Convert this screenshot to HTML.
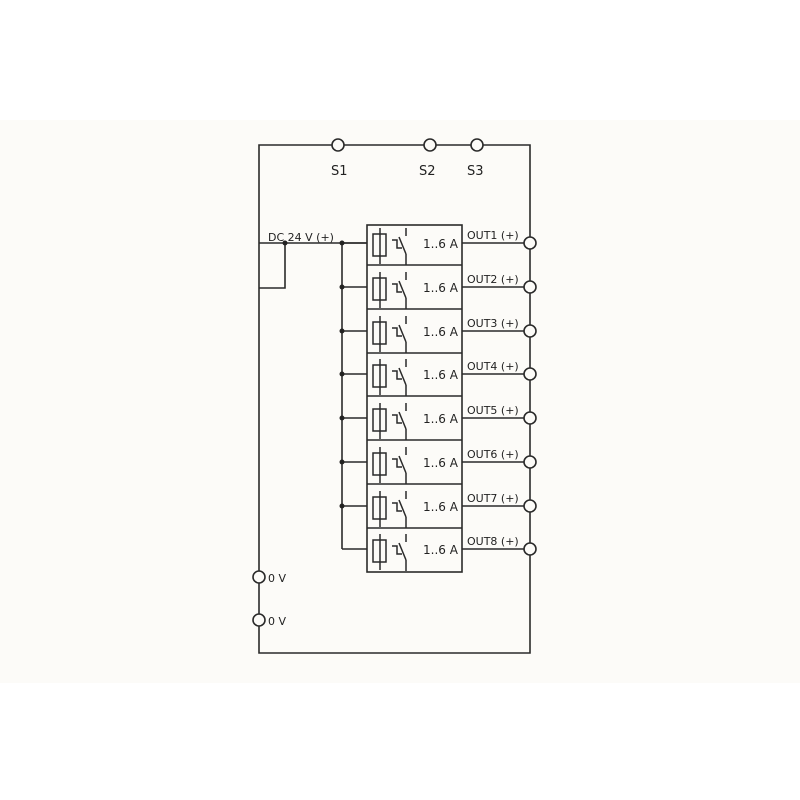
<!DOCTYPE html>
<html><head><style>
html,body{margin:0;padding:0;background:#fff;}
.band{position:absolute;left:0;top:120px;width:800px;height:563px;background:#fcfbf8;}
svg{position:absolute;left:0;top:0;}
text{font-family:"DejaVu Sans","Liberation Sans",sans-serif;fill:#222;}
</style></head><body>
<div class="band"></div>
<svg width="800" height="800" viewBox="0 0 800 800">
<g stroke="#2a2a2a" stroke-width="1.6" fill="none">
<polyline points="332,145 259,145 259,571"/>
<line x1="259" y1="583" x2="259" y2="614"/>
<polyline points="259,626 259,653 530,653 530,555"/>
<line x1="344" y1="145" x2="424" y2="145"/>
<line x1="436" y1="145" x2="471" y2="145"/>
<polyline points="483,145 530,145 530,237"/>
<rect x="367" y="225" width="95" height="347" fill="#fcfbf8"/>
<line x1="259" y1="243" x2="367" y2="243"/>
<polyline points="285,243 285,288 259,288"/>
<line x1="342" y1="243" x2="342" y2="549"/>
</g>
<g fill="#fcfbf8" stroke="#2a2a2a" stroke-width="1.6">
<circle cx="338" cy="145" r="6"/><circle cx="430" cy="145" r="6"/><circle cx="477" cy="145" r="6"/>
<circle cx="259" cy="577" r="6"/><circle cx="259" cy="620" r="6"/>
</g>
<g fill="#222"><circle cx="285" cy="243" r="2.5"/></g>
<g font-size="13">
<text x="331" y="175">S1</text><text x="419" y="175">S2</text><text x="467" y="175">S3</text>
<text x="268" y="241" font-size="11">DC 24 V (+)</text>
<text x="268" y="582" font-size="11">0 V</text>
<text x="268" y="625" font-size="11">0 V</text>
</g>
<g id="rows"></g>
</svg>
<script>
var ys=[243,287,331,374,418,462,506,549];
var s='';
ys.forEach(function(y,i){
 if(i<7) s+='<line x1="367" y1="'+(y+22)+'" x2="462" y2="'+(y+22)+'" stroke="#2a2a2a" stroke-width="1.6"/>';
 s+='<line x1="342" y1="'+y+'" x2="367" y2="'+y+'" stroke="#2a2a2a" stroke-width="1.6"/>';
 if(i<7) s+='<circle cx="342" cy="'+y+'" r="2.5" fill="#222"/>';
 s+='<line x1="462" y1="'+y+'" x2="524" y2="'+y+'" stroke="#2a2a2a" stroke-width="1.6"/>';
 s+='<g stroke="#2a2a2a" stroke-width="1.5" fill="none">';
 s+='<rect x="373" y="'+(y-9)+'" width="13" height="22"/>';
 s+='<line x1="380" y1="'+(y-15)+'" x2="380" y2="'+(y+21)+'"/>';
 s+='<polyline points="392,'+(y-3)+' 397,'+(y-3)+' 397,'+(y+5)+' 402,'+(y+5)+'"/>';
 s+='<line x1="399" y1="'+(y-6)+'" x2="406" y2="'+(y+11)+'"/>';
 s+='<line x1="406" y1="'+(y-15)+'" x2="406" y2="'+(y-7)+'"/>';
 s+='<line x1="406" y1="'+(y+11)+'" x2="406" y2="'+(y+22)+'"/>';
 s+='</g>';
 s+='<circle cx="530" cy="'+y+'" r="6" fill="#fcfbf8" stroke="#2a2a2a" stroke-width="1.6"/>';
 if(i<7) s+='<line x1="530" y1="'+(y+6)+'" x2="530" y2="'+(ys[i+1]-6)+'" stroke="#2a2a2a" stroke-width="1.6"/>';
 s+='<text x="423" y="'+(y+5)+'" font-size="12">1..6 A</text>';
 s+='<text x="467" y="'+(y-4)+'" font-size="11">OUT'+(i+1)+' (+)</text>';
});
document.getElementById('rows').innerHTML=s;
</script>
</body></html>
